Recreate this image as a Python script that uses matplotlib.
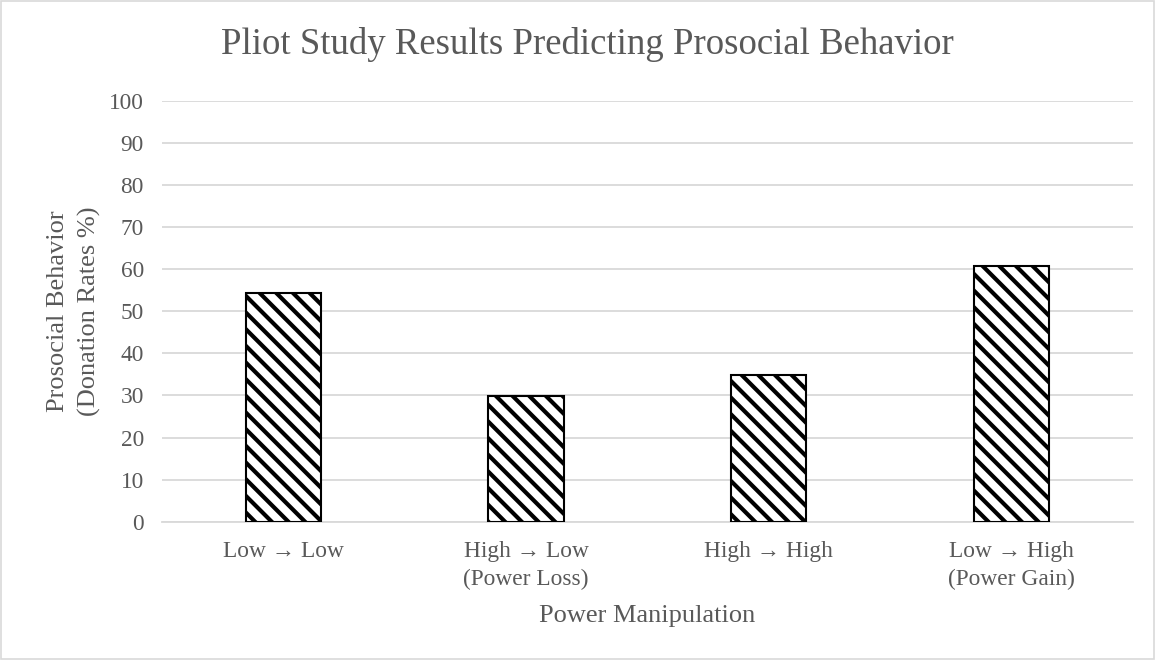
import matplotlib.pyplot as plt
from matplotlib.patches import Rectangle

categories = ["Low \u2192 Low", "High \u2192 Low\n(Power Loss)", "High \u2192 High", "Low \u2192 High\n(Power Gain)"]
donation_rates = [54.3, 29.9, 34.8, 60.7]
y_ticks = [0, 10, 20, 30, 40, 50, 60, 70, 80, 90, 100]

plt.rcParams['font.family'] = ['Liberation Serif', 'DejaVu Serif']
plt.rcParams['hatch.linewidth'] = 3.0
text_color = '#595959'
grid_color = '#d9d9d9'

fig = plt.figure(figsize=(11.56, 6.6), dpi=100)
ax = fig.add_axes([0.140, 0.2095, 0.840, 0.6379])

x = range(len(categories))
ax.bar(x, donation_rates, width=0.31, color='white', edgecolor='black',
       hatch='\\\\', linewidth=1.5, zorder=3)

ax.set_ylim(0, 100)
ax.set_xlim(-0.5, len(categories) - 0.5)
ax.set_yticks(y_ticks)
ax.set_xticks(list(x))
ax.set_xticklabels(categories, fontsize=16.8, color=text_color, linespacing=1.4, va='top')
ax.tick_params(axis='y', labelsize=16.8, colors=text_color, length=0, pad=13)
ax.tick_params(axis='x', length=0, pad=14)
ax.yaxis.grid(True, color=grid_color, linewidth=1.3, zorder=0)
for s in ['top', 'right', 'left']:
    ax.spines[s].set_visible(False)
ax.spines['bottom'].set_color(grid_color)
ax.spines['bottom'].set_linewidth(1.3)

ax.set_xlabel("Power Manipulation", fontsize=19, color=text_color, labelpad=11)
ax.set_ylabel("Prosocial Behavior\n(Donation Rates %)", fontsize=19, color=text_color,
              labelpad=6, linespacing=1.5)
fig.text(0.508, 0.932, "Pliot Study Results Predicting Prosocial Behavior", ha='center',
         va='center', fontsize=26.5, color=text_color)

# chart border
fig.patches.append(Rectangle((0.0005, 0.001), 0.998, 0.997, transform=fig.transFigure,
                             fill=False, edgecolor='#d9d9d9', linewidth=1.2))

fig.savefig('out.png', dpi=100)
